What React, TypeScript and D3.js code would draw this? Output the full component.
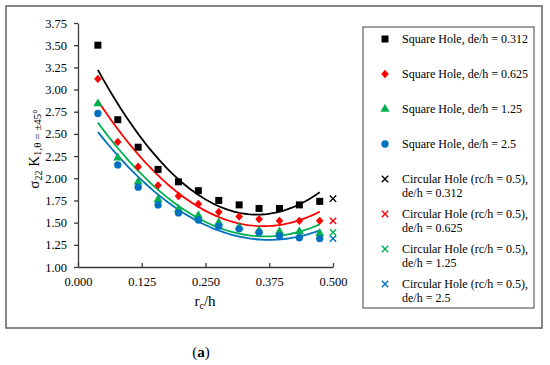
import { useEffect, useRef } from 'react';
import * as d3 from 'd3';

// r_c/h positions of the square-hole samples
const rcH = [0.039, 0.078, 0.118, 0.157, 0.197, 0.236, 0.276, 0.316, 0.355, 0.395, 0.434, 0.474];

const sq0312 = [3.50, 2.66, 2.35, 2.10, 1.96, 1.86, 1.75, 1.70, 1.66, 1.66, 1.70, 1.74];
const sq0625 = [3.12, 2.41, 2.13, 1.92, 1.80, 1.71, 1.62, 1.57, 1.54, 1.52, 1.52, 1.52];
const sq125 = [2.84, 2.23, 1.96, 1.76, 1.65, 1.58, 1.50, 1.45, 1.41, 1.40, 1.40, 1.38];
const sq25 = [2.73, 2.15, 1.90, 1.70, 1.61, 1.53, 1.46, 1.43, 1.39, 1.35, 1.33, 1.32];

// circular hole (rc/h = 0.5), one value per de/h
const circX = 0.5;
const circVals = [1.77, 1.52, 1.39, 1.32];

const deLabels = ['0.312', '0.625', '1.25', '2.5'];
const colors = ['#000000', '#ff0000', '#00b050', '#0070c0'];
const shapes = ['square', 'diamond', 'triangle', 'circle'];

const xTicks = [0, 0.125, 0.25, 0.375, 0.5];
const yTicks = d3.range(1, 3.76, 0.25);

const FONT = "'Liberation Serif', 'Times New Roman', serif";

// least-squares quadratic (Excel poly trendline, order 2)
function quadFit(xs: number[], ys: number[]) {
  const s = [0, 0, 0, 0, 0];
  const t = [0, 0, 0];
  xs.forEach((x, i) => {
    for (let k = 0; k < 5; k++) s[k] += Math.pow(x, k);
    for (let k = 0; k < 3; k++) t[k] += Math.pow(x, k) * ys[i];
  });
  const M = [
    [s[0], s[1], s[2], t[0]],
    [s[1], s[2], s[3], t[1]],
    [s[2], s[3], s[4], t[2]],
  ];
  for (let c = 0; c < 3; c++) {
    for (let r = c + 1; r < 3; r++) {
      const f = M[r][c] / M[c][c];
      for (let k = c; k < 4; k++) M[r][k] -= f * M[c][k];
    }
  }
  const b = [0, 0, 0];
  for (let r = 2; r >= 0; r--) {
    let v = M[r][3];
    for (let k = r + 1; k < 3; k++) v -= M[r][k] * b[k];
    b[r] = v / M[r][r];
  }
  return (x: number) => b[0] + b[1] * x + b[2] * x * x;
}

function drawMarker(g: any, shape: string, cx: number, cy: number, color: string) {
  if (shape === 'square') {
    g.append('rect').attr('x', cx - 3.5).attr('y', cy - 3.5).attr('width', 7).attr('height', 7).attr('fill', color);
  } else if (shape === 'diamond') {
    g.append('path')
      .attr('d', `M${cx},${cy - 4.2}L${cx + 3.8},${cy}L${cx},${cy + 4.2}L${cx - 3.8},${cy}Z`)
      .attr('fill', color);
  } else {
    const type = shape === 'triangle' ? d3.symbolTriangle : d3.symbolCircle;
    const size = shape === 'triangle' ? 36 : 42;
    g.append('path')
      .attr('d', d3.symbol().type(type).size(size)())
      .attr('transform', `translate(${cx},${cy})`)
      .attr('fill', color);
  }
}

function drawCross(g: any, cx: number, cy: number, color: string) {
  const r = 3.2;
  g.append('path')
    .attr('d', `M${cx - r},${cy - r}L${cx + r},${cy + r}M${cx - r},${cy + r}L${cx + r},${cy - r}`)
    .attr('stroke', color)
    .attr('stroke-width', 1.4)
    .attr('fill', 'none');
}

export default function App() {
  const svgRef = useRef<SVGSVGElement>(null);

  useEffect(() => {
    document.body.style.margin = '0';
    const svg = d3.select(svgRef.current);
    svg.selectAll('*').remove();

    // outer frame
    svg.append('rect')
      .attr('x', 6).attr('y', 6).attr('width', 536).attr('height', 322)
      .attr('fill', 'none').attr('stroke', '#6a6a6a').attr('stroke-width', 1.6);

    const x = d3.scaleLinear().domain([0, 0.5]).range([78, 333]);
    const y = d3.scaleLinear().domain([1, 3.75]).range([267, 23]);

    // Y axis
    const yAxis = svg.append('g')
      .attr('transform', 'translate(78,0)')
      .call(d3.axisLeft(y).tickValues(yTicks).tickFormat(d3.format('.2f')).tickSizeInner(4).tickSizeOuter(0).tickPadding(7));
    // X axis
    const xAxis = svg.append('g')
      .attr('transform', 'translate(0,267)')
      .call(d3.axisBottom(x).tickValues(xTicks).tickFormat(d3.format('.3f')).tickSizeInner(-4).tickSizeOuter(0).tickPadding(10));

    [yAxis, xAxis].forEach((ax) => {
      ax.attr('font-family', FONT);
      ax.selectAll('path, line').attr('stroke', '#3a3a3a').attr('stroke-width', 1.3);
      ax.selectAll('text').attr('font-family', FONT).attr('font-size', 12.5).attr('fill', '#000');
    });

    // axis titles
    const xt = svg.append('text')
      .attr('x', 205).attr('y', 306)
      .attr('text-anchor', 'middle')
      .attr('font-family', FONT).attr('font-size', 15);
    xt.append('tspan').text('r');
    xt.append('tspan').attr('font-size', 10).attr('dy', 3).text('c');
    xt.append('tspan').attr('dy', -3).text('/h');

    const yt = svg.append('text')
      .attr('transform', 'translate(39,149) rotate(-90)')
      .attr('text-anchor', 'middle')
      .attr('font-family', FONT).attr('font-size', 15);
    yt.append('tspan').text('σ');
    yt.append('tspan').attr('font-size', 10).attr('dy', 3).text('22');
    yt.append('tspan').attr('dy', -3).text(' K');
    yt.append('tspan').attr('font-size', 11).attr('dy', 2).text('1,θ = ±45°');

    // trendlines + markers
    const series = [sq0312, sq0625, sq125, sq25];
    const plot = svg.append('g');
    series.forEach((vals, i) => {
      const f = quadFit(rcH, vals);
      const xs = d3.range(rcH[0], rcH[rcH.length - 1] + 1e-9, (rcH[rcH.length - 1] - rcH[0]) / 80);
      plot.append('path')
        .datum(xs)
        .attr('d', d3.line<number>().x((d) => x(d)).y((d) => y(f(d))))
        .attr('fill', 'none')
        .attr('stroke', colors[i])
        .attr('stroke-width', 1.8);
    });
    series.forEach((vals, i) => {
      vals.forEach((v, j) => drawMarker(plot, shapes[i], x(rcH[j]), y(v), colors[i]));
    });
    circVals.forEach((v, i) => drawCross(plot, x(circX), y(v), colors[i]));

    // legend
    const lg = svg.append('g');
    lg.append('rect')
      .attr('x', 363).attr('y', 27).attr('width', 171).attr('height', 281)
      .attr('fill', '#fff').attr('stroke', '#404040').attr('stroke-width', 1);
    const ly = d3.scaleLinear().domain([0, 1]).range([39, 74]);
    deLabels.forEach((de, i) => {
      const cy = ly(i);
      drawMarker(lg, shapes[i], 385, cy, colors[i]);
      lg.append('text')
        .attr('x', 402).attr('y', cy + 4)
        .attr('font-family', FONT).attr('font-size', 12)
        .text(`Square Hole, de/h = ${de}`);
    });
    deLabels.forEach((de, i) => {
      const cy = ly(i + 4);
      drawCross(lg, 385, cy, colors[i]);
      const t = lg.append('text')
        .attr('x', 402).attr('y', cy + 4)
        .attr('font-family', FONT).attr('font-size', 12);
      t.append('tspan').text('Circular Hole (rc/h = 0.5),');
      t.append('tspan').attr('x', 402).attr('dy', 14).text(`de/h = ${de}`);
    });

    // caption
    const cap = svg.append('text')
      .attr('x', 201).attr('y', 357)
      .attr('text-anchor', 'middle')
      .attr('font-family', FONT).attr('font-size', 15);
    cap.append('tspan').text('(');
    cap.append('tspan').attr('font-weight', 'bold').text('a');
    cap.append('tspan').text(')');
  }, []);

  return <svg ref={svgRef} width={550} height={365} style={{ display: 'block', background: '#fff' }} />;
}
